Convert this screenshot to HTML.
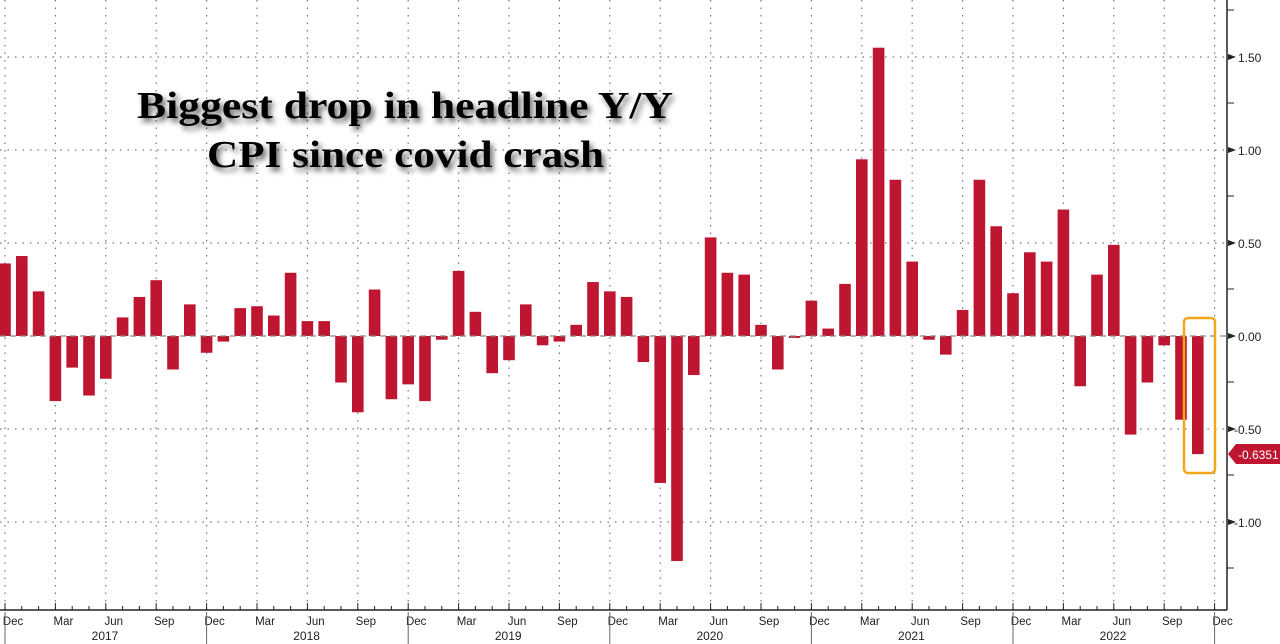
<!DOCTYPE html>
<html><head><meta charset="utf-8"><style>
html,body{margin:0;padding:0;background:#fff;}
svg{display:block;font-family:"Liberation Sans",sans-serif;}
</style></head><body>
<svg id="c" width="1280" height="644" viewBox="0 0 1280 644" xmlns="http://www.w3.org/2000/svg">
<defs>
<filter id="sh" x="-10%" y="-30%" width="120%" height="160%"><feGaussianBlur in="SourceAlpha" stdDeviation="3"/><feOffset dx="3" dy="4"/><feComponentTransfer><feFuncA type="linear" slope="0.6"/></feComponentTransfer><feMerge><feMergeNode/><feMergeNode in="SourceGraphic"/></feMerge></filter>
</defs>
<g id="grid"></g>
<g id="bars"></g>
<g id="axes"></g>
<rect x="1184" y="318" width="31" height="155" rx="4" fill="none" stroke="#f2a71b" stroke-width="2.5"/>
<g filter="url(#sh)" font-family="'Liberation Serif',serif" font-weight="bold" font-size="38" fill="#000">
<text x="137" y="118" textLength="536" lengthAdjust="spacingAndGlyphs">Biggest drop in headline Y/Y</text>
<text x="207" y="167" textLength="397" lengthAdjust="spacingAndGlyphs">CPI since covid crash</text>
</g>
</svg>
<script>
var NS="http://www.w3.org/2000/svg";
function el(p,t,a,txt){var e=document.createElementNS(NS,t);for(var k in a)e.setAttribute(k,a[k]);if(txt!==undefined)e.textContent=txt;document.getElementById(p).appendChild(e);return e;}
var vals=[0.39,0.43,0.24,-0.35,-0.17,-0.32,-0.23,0.10,0.21,0.30,-0.18,0.17,-0.09,-0.03,0.15,0.16,0.11,0.34,0.08,0.08,-0.25,-0.41,0.25,-0.34,-0.26,-0.35,-0.02,0.35,0.13,-0.20,-0.13,0.17,-0.05,-0.03,0.06,0.29,0.24,0.21,-0.14,-0.79,-1.21,-0.21,0.53,0.34,0.33,0.06,-0.18,-0.01,0.19,0.04,0.28,0.95,1.55,0.84,0.40,-0.02,-0.10,0.14,0.84,0.59,0.23,0.45,0.40,0.68,-0.27,0.33,0.49,-0.53,-0.25,-0.05,-0.45,-0.635];
var Z=336,S=186,s=16.8,x0=5;
// horizontal grid
[-36,57,150,243,429,522].forEach(function(y){el("grid","line",{x1:0,x2:1227,y1:y,y2:y,stroke:"#777","stroke-dasharray":"1.5 6","stroke-width":1.2});});
// vertical grid quarterly
for(var i=0;i<=72;i+=3){var x=x0+i*s;el("grid","line",{x1:x,x2:x,y1:0,y2:610,stroke:"#777","stroke-dasharray":"1.5 6","stroke-width":1.2});}
// bars
vals.forEach(function(v,i){var cx=x0+i*s,h=Math.abs(v)*S;el("bars","rect",{x:cx-5.8,y:v>=0?Z-h:Z,width:11.6,height:Math.max(h,1),fill:"#be1530"});});
// zero line
el("axes","line",{x1:0,x2:1227,y1:Z,y2:Z,stroke:"#888","stroke-dasharray":"6 4","stroke-width":1.2});
// axes
el("axes","line",{x1:1227,x2:1227,y1:0,y2:610,stroke:"#222","stroke-width":1.5});
el("axes","line",{x1:0,x2:1227,y1:610,y2:610,stroke:"#222","stroke-width":1.5});
// y labels
[[57,"1.50"],[150,"1.00"],[243,"0.50"],[336,"0.00"],[429,"-0.50"],[522,"-1.00"]].forEach(function(a){
 el("axes","path",{d:"M1228 "+(a[0]-3)+"L1236 "+a[0]+"L1228 "+(a[0]+3)+"Z",fill:"#222"});
 el("axes","text",{x:a[1][0]=="-"?1234:1238,y:a[0]+5,"font-size":12,fill:"#222"},a[1]);
});
[10,103,196,289,382,475,568].forEach(function(y){el("axes","line",{x1:1227,x2:1234,y1:y,y2:y,stroke:"#222"});});
// value label
el("axes","path",{d:"M1228 454L1236 444L1280 444L1280 464L1236 464Z",fill:"#be1530"});
el("axes","text",{x:1238,y:459,"font-size":12,fill:"#fff"},"-0.6351");
// month ticks
for(var i=0;i<=72;i++){var x=x0+i*s;el("axes","line",{x1:x,x2:x,y1:610,y2:i%3==0?603:606,stroke:"#222"});}
var mn=["Dec","Mar","Jun","Sep"];
for(var i=0;i<=72;i+=3){el("axes","text",{x:x0+i*s+8,y:625,"font-size":11.5,fill:"#222","text-anchor":"middle"},mn[(i/3)%4]);}
// year separators and labels
for(var y=0;y<6;y++){var x=x0+y*12*s;el("axes","line",{x1:x,x2:x,y1:612,y2:644,stroke:"#666"});
 el("axes","text",{x:x+100,y:640,"font-size":12,fill:"#222","text-anchor":"middle"},String(2017+y));}
el("axes","line",{x1:x0+72*s,x2:x0+72*s,y1:612,y2:644,stroke:"#666"});
</script>
</body></html>
